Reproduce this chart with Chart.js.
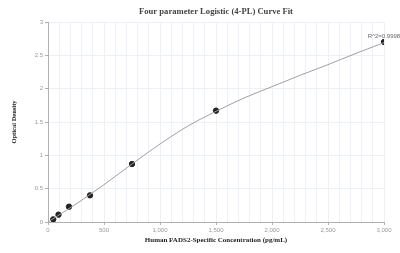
<!DOCTYPE html>
<html>
<head>
<meta charset="utf-8">
<script src="https://cdn.jsdelivr.net/npm/chart.js@4/dist/chart.umd.min.js"></script>
<style>
html,body{margin:0;padding:0;background:#fff;}
#c{display:block;}
</style>
</head>
<body>
<canvas id="c" width="400" height="253"></canvas>
<script>
// Measured standards
const concentrations = [46.875, 93.75, 187.5, 375, 750, 1500, 3000];
const odValues = [0.04, 0.11, 0.23, 0.40, 0.87, 1.67, 2.70];
// Fitted curve
const curveX = [0, 250, 500, 750, 1000, 1250, 1500, 1750, 2000, 2250, 2500, 2750, 3000];
const curveY = [0.0, 0.27, 0.56, 0.87, 1.17, 1.44, 1.66, 1.86, 2.03, 2.20, 2.36, 2.53, 2.69];
const r2Label = 'R^2=0.9998';
const titleText = 'Four parameter Logistic (4-PL) Curve Fit';
const xTitle = 'Human FADS2-Specific Concentration (pg/mL)';
const yTitle = 'Optical Density';

const annotPlugin = {
  id: 'annot',
  afterDatasetsDraw(chart) {
    const meta = chart.getDatasetMeta(1);
    const pt = meta.data[meta.data.length - 1];
    const ctx = chart.ctx;
    ctx.save();
    ctx.font = '6px "Liberation Sans", Arial, sans-serif';
    ctx.fillStyle = '#666';
    ctx.textAlign = 'center';
    ctx.textBaseline = 'bottom';
    ctx.fillText(r2Label, pt.x, pt.y - 3);
    // chart title centred over the plot area
    const a = chart.chartArea;
    ctx.font = 'bold 8.6px "Liberation Serif", "Times New Roman", serif';
    ctx.fillStyle = '#444';
    ctx.textBaseline = 'middle';
    ctx.fillText(titleText, (a.left + a.right) / 2, 12);
    ctx.restore();
  }
};

new Chart(document.getElementById('c'), {
  type: 'scatter',
  data: {
    datasets: [
      {
        type: 'line',
        data: curveX.map((x, i) => ({x: x, y: curveY[i]})),
        borderColor: '#a0a0a0',
        borderWidth: 1,
        pointRadius: 0,
        cubicInterpolationMode: 'monotone',
        fill: false
      },
      {
        data: concentrations.map((x, i) => ({x: x, y: odValues[i]})),
        backgroundColor: '#222',
        borderColor: '#222',
        pointRadius: 2.7,
        pointHoverRadius: 2.7
      }
    ]
  },
  options: {
    responsive: false,
    animation: false,
    events: [],
    layout: {padding: {left: 6, right: 16, top: 22, bottom: 5}},
    plugins: {
      legend: {display: false},
      tooltip: {enabled: false},
      title: {display: false}
    },
    scales: {
      x: {
        type: 'linear',
        min: 0,
        max: 3000,
        afterFit(s) { s.height = 26; },
        border: {color: '#b0b0b0'},
        grid: {
          color: '#edf0f6',
          tickLength: 3,
          tickColor: (c) => (c.tick && c.tick.value % 500 === 0) ? '#b0b0b0' : 'rgba(0,0,0,0)'
        },
        ticks: {
          stepSize: 100,
          autoSkip: false,
          maxRotation: 0,
          padding: 2,
          color: '#999',
          font: {family: '"Liberation Sans", Arial, sans-serif', size: 6},
          callback: (v) => v % 500 === 0 ? v.toLocaleString('en-US') : ''
        },
        title: {
          display: true,
          text: xTitle,
          color: '#222',
          font: {family: '"Liberation Serif", "Times New Roman", serif', size: 7, weight: 'bold'},
          padding: {top: 3}
        }
      },
      y: {
        min: 0,
        max: 3,
        afterFit(s) { s.width = 42; },
        border: {color: '#b0b0b0'},
        grid: {color: '#edf0f6', tickLength: 3, tickColor: '#b0b0b0'},
        ticks: {
          stepSize: 0.5,
          padding: 2,
          color: '#999',
          font: {family: '"Liberation Sans", Arial, sans-serif', size: 6},
          callback: (v) => String(v)
        },
        title: {
          display: true,
          text: yTitle,
          color: '#222',
          font: {family: '"Liberation Serif", "Times New Roman", serif', size: 6.5, weight: 'bold'},
          padding: {bottom: 8}
        }
      }
    }
  },
  plugins: [annotPlugin]
});
</script>
</body>
</html>
